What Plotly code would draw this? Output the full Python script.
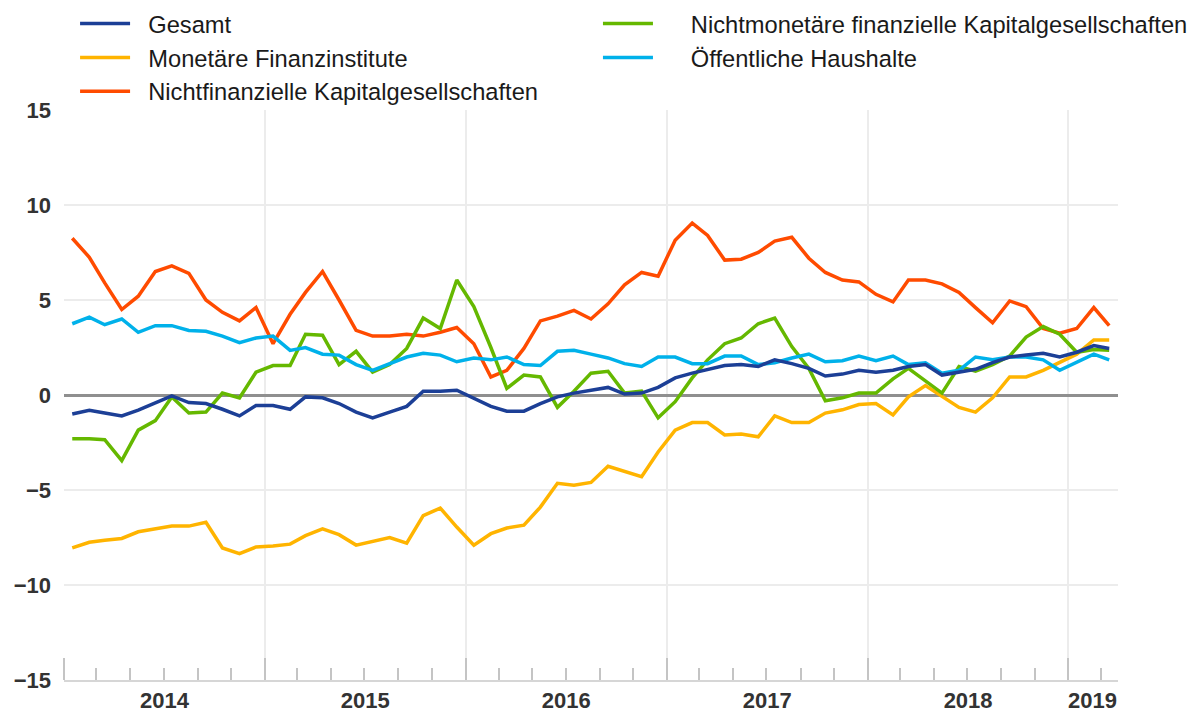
import plotly.graph_objects as go

# Monthly observations, Jan 2014 - Mar 2019 (plotted mid-month)
months = [f"{y}-{m:02d}-16" for y in range(2014, 2020) for m in range(1, 13)][:63]

gesamt = [-1.0, -0.8, -0.95, -1.1, -0.8, -0.4, -0.05, -0.4, -0.45, -0.75, -1.1, -0.55, -0.55, -0.75, -0.1, -0.15,
          -0.45, -0.9, -1.2, -0.9, -0.6, 0.2, 0.2, 0.25, -0.2, -0.6, -0.85, -0.85, -0.45, -0.1, 0.1, 0.25,
          0.4, 0.05, 0.1, 0.4, 0.9, 1.15, 1.35, 1.55, 1.6, 1.5, 1.85, 1.65, 1.4, 1.0, 1.1,
          1.3, 1.2, 1.3, 1.5, 1.6, 1.05, 1.2, 1.35, 1.7, 2.0, 2.1, 2.2, 2.0, 2.25, 2.6, 2.45]

monetaere = [-8.05, -7.75, -7.65, -7.55, -7.2, -7.05, -6.9, -6.9, -6.7, -8.05, -8.35, -8.0, -7.95, -7.85, -7.4, -7.05,
             -7.35, -7.9, -7.7, -7.5, -7.8, -6.35, -5.95, -6.95, -7.9, -7.3, -7.0, -6.85, -5.9, -4.65, -4.75, -4.6,
             -3.75, -4.0, -4.3, -3.0, -1.85, -1.45, -1.45, -2.1, -2.05, -2.2, -1.1, -1.45, -1.45, -0.95, -0.78,
             -0.5, -0.45, -1.05, -0.1, 0.5, -0.05, -0.65, -0.9, -0.15, 0.95, 0.95, 1.3, 1.7, 2.15, 2.9, 2.9]

nichtfinanzielle = [8.25, 7.25, 5.9, 4.5, 5.2, 6.5, 6.8, 6.4, 5.0, 4.35, 3.9, 4.6, 2.7, 4.25, 5.4, 6.5,
                    5.0, 3.4, 3.1, 3.1, 3.2, 3.1, 3.3, 3.55, 2.7, 0.95, 1.3, 2.45, 3.9, 4.15, 4.45, 4.0,
                    4.8, 5.8, 6.45, 6.25, 8.15, 9.05, 8.4, 7.1, 7.15, 7.5, 8.1, 8.3, 7.2, 6.45, 6.05,
                    5.95, 5.3, 4.9, 6.05, 6.05, 5.85, 5.4, 4.6, 3.8, 4.95, 4.65, 3.5, 3.25, 3.5, 4.6, 3.65]

nichtmonetaere = [-2.3, -2.3, -2.35, -3.45, -1.85, -1.35, -0.1, -0.95, -0.9, 0.1, -0.15, 1.2, 1.55, 1.55, 3.2, 3.15,
                  1.6, 2.3, 1.2, 1.6, 2.45, 4.05, 3.5, 6.05, 4.65, 2.5, 0.35, 1.05, 0.95, -0.65, 0.2, 1.15,
                  1.25, 0.1, 0.2, -1.2, -0.35, 0.9, 1.85, 2.7, 3.0, 3.75, 4.05, 2.55, 1.4, -0.3, -0.15,
                  0.1, 0.1, 0.85, 1.4, 0.75, 0.1, 1.5, 1.25, 1.6, 2.05, 3.05, 3.6, 3.2, 2.25, 2.4, 2.35]

oeffentliche = [3.75, 4.1, 3.7, 4.0, 3.3, 3.65, 3.65, 3.4, 3.35, 3.1, 2.75, 3.0, 3.1, 2.35, 2.5, 2.15,
                2.1, 1.6, 1.3, 1.65, 2.0, 2.2, 2.1, 1.75, 1.95, 1.85, 2.0, 1.6, 1.55, 2.3, 2.35, 2.15,
                1.95, 1.65, 1.5, 2.0, 2.0, 1.65, 1.65, 2.05, 2.05, 1.6, 1.7, 1.95, 2.15, 1.75, 1.8,
                2.05, 1.8, 2.05, 1.6, 1.7, 1.15, 1.3, 2.0, 1.85, 2.0, 2.0, 1.85, 1.3, 1.75, 2.15, 1.85]

series_names = ["Gesamt", "Monetäre Finanzinstitute", "Nichtfinanzielle Kapitalgesellschaften",
                "Nichtmonetäre finanzielle Kapitalgesellschaften", "Öffentliche Haushalte"]
series_values = [gesamt, monetaere, nichtfinanzielle, nichtmonetaere, oeffentliche]
series_colors = ["#1c3f96", "#ffb400", "#ff4b00", "#65b800", "#00b1ea"]
series_legend = ["legend", "legend", "legend", "legend2", "legend2"]

# last (partial) year label, placed in the middle of its visible part
last_year_label = "2019"
last_year_pos = "2019-02-14"

FONT = "Liberation Sans, Arial, sans-serif"
NB = "\u00a0"

fig = go.Figure()
draw_order = [2, 1, 3, 4, 0]
for k in draw_order:
    pad = NB * 2 if series_legend[k] == "legend" else NB * 5
    fig.add_trace(go.Scatter(
        x=months, y=series_values[k], name=pad + series_names[k], mode="lines",
        line=dict(color=series_colors[k], width=3.5),
        legend=series_legend[k], legendgroup=series_names[k], legendrank=k,
        hoverinfo="skip",
    ))

legend_common = dict(
    orientation="v", xanchor="left", yanchor="top",
    font=dict(family=FONT, size=23.7, color="#1a1a1a"),
    bgcolor="rgba(0,0,0,0)", borderwidth=0, tracegroupgap=10,
    traceorder="normal", itemwidth=50,
)

tickfont = dict(family=FONT, size=22, color="#333333", weight="bold")

fig.update_layout(
    width=1188, height=713,
    margin=dict(l=64, r=70, t=110, b=33, autoexpand=False),
    paper_bgcolor="white", plot_bgcolor="white",
    showlegend=True,
    legend=dict(x=0.0105, y=1.19, **legend_common),
    legend2=dict(x=0.5066, y=1.19, **legend_common),
    xaxis=dict(
        type="date", range=["2014-01-01", "2019-04-01"],
        tickmode="linear", tick0="2014-01-01", dtick="M12",
        ticklabelmode="period", tickformat="%Y",
        ticks="inside", ticklen=22, tickwidth=2, tickcolor="#c4c4c4",
        minor=dict(ticks="inside", ticklen=12, tickwidth=2, tickcolor="#c4c4c4",
                   dtick="M2", tick0="2014-01-01", showgrid=False),
        showgrid=True, gridcolor="#ececec", gridwidth=1.5,
        showline=True, linecolor="#d6d6d6", linewidth=1.5,
        zeroline=False,
        tickfont=tickfont,
    ),
    yaxis=dict(
        range=[-15, 15], tickmode="linear", tick0=-15, dtick=5,
        showgrid=True, gridcolor="#ececec", gridwidth=1.5,
        zeroline=True, zerolinecolor="#8f8f8f", zerolinewidth=3,
        showline=False, ticks="", ticklabelstandoff=12,
        tickfont=tickfont,
    ),
    annotations=[dict(
        x=last_year_pos, xref="x", y=0, yref="paper",
        text=last_year_label, showarrow=False,
        xanchor="center", yanchor="middle", yshift=-20,
        font=tickfont,
    )],
)

fig.write_html("out.html")
